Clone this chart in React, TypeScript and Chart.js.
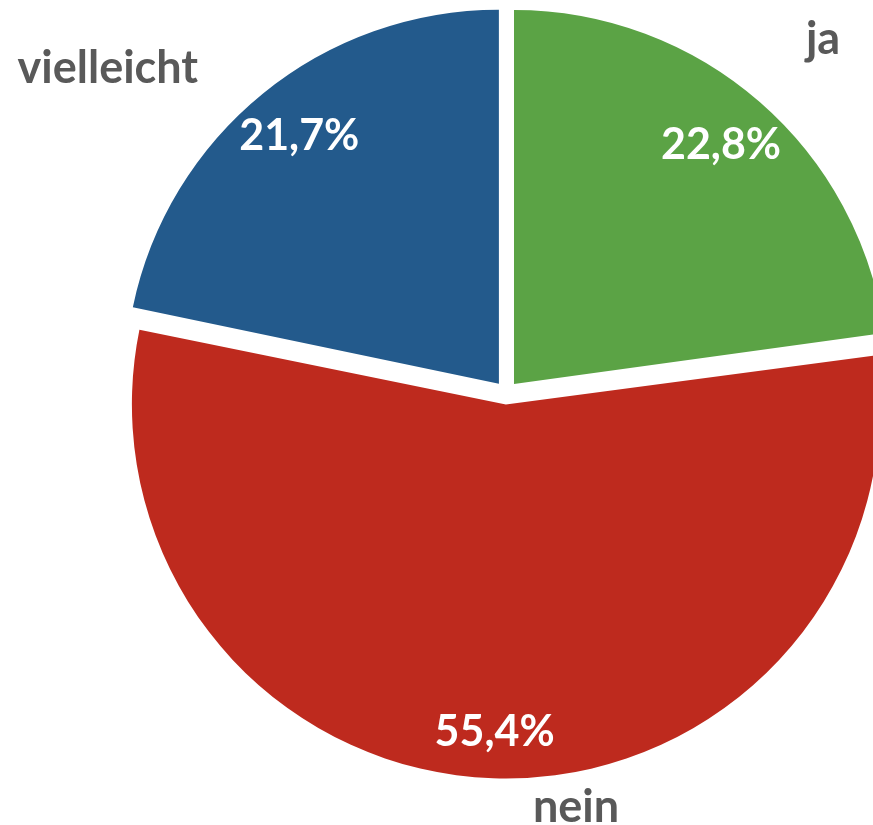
import React, { useEffect, useRef } from "react";
import { Chart, registerables } from "chart.js";

Chart.register(...registerables);

// ---- data ----
const categories = ["ja", "nein", "vielleicht"];
const values = [22.8, 55.4, 21.7];
const valueLabels = ["22,8%", "55,4%", "21,7%"];
const sliceColors = ["#5BA345", "#BE2A1E", "#235A8C"];

// ---- layout / style config ----
const RADIUS = 374;
const EXPLODE_PX = 11.7;
const VALUE_FONT = "bold 43px Lato";
const NAME_FONT = "bold 45px Lato";
const NAME_COLOR = "#595959";
const inLabelRadius = [0.842, 0.881, 0.847];
const outLabelRadius = [1.23, 1.086, 1.347];
const outLabelAngleShiftDeg = [0.8, -11.9, -11.8];

function drawCentered(ctx: CanvasRenderingContext2D, text: string, x: number, y: number, color: string, font: string) {
  ctx.save();
  ctx.font = font;
  ctx.fillStyle = color;
  ctx.textAlign = "left";
  ctx.textBaseline = "alphabetic";
  const m = ctx.measureText(text);
  const dx = x - (m.actualBoundingBoxRight - m.actualBoundingBoxLeft) / 2;
  const base = y + (m.actualBoundingBoxAscent - m.actualBoundingBoxDescent) / 2;
  ctx.fillText(text, dx, base);
  ctx.restore();
}

const sliceLabelPlugin = {
  id: "sliceLabels",
  beforeDatasetsDraw(chart: any) {
    const meta = chart.getDatasetMeta(0);
    const ctrl: any = meta.controller;
    meta.data.forEach((arc: any) => {
      const off = (arc.options.offset || 0) / 4;
      const fix = 1 - Math.sin(Math.min(Math.PI, arc.circumference || 0));
      arc.outerRadius = ctrl.outerRadius - off * fix;
    });
  },
  afterDatasetsDraw(chart: any) {
    const ctx: CanvasRenderingContext2D = chart.ctx;
    const meta = chart.getDatasetMeta(0);
    const R = (meta.controller as any).outerRadius;
    meta.data.forEach((arc: any, i: number) => {
      const off = (arc.options.offset || 0) / 4;
      const mid = (arc.startAngle + arc.endAngle) / 2;
      const cx = arc.x + Math.cos(mid) * off;
      const cy = arc.y + Math.sin(mid) * off;
      drawCentered(
        ctx,
        valueLabels[i],
        cx + Math.cos(mid) * R * inLabelRadius[i],
        cy + Math.sin(mid) * R * inLabelRadius[i],
        "#FFFFFF",
        VALUE_FONT
      );
      const a2 = mid + (outLabelAngleShiftDeg[i] * Math.PI) / 180;
      drawCentered(
        ctx,
        categories[i],
        cx + Math.cos(a2) * R * outLabelRadius[i],
        cy + Math.sin(a2) * R * outLabelRadius[i],
        NAME_COLOR,
        NAME_FONT
      );
    });
  },
};

export default function App() {
  const ref = useRef<HTMLCanvasElement | null>(null);
  useEffect(() => {
    if (!ref.current) return;
    const W = 873;
    const H = 825;
    const centerX = 506.3;
    const centerY = 392.8;
    const chart = new Chart(ref.current, {
      type: "pie",
      data: {
        labels: categories,
        datasets: [
          {
            data: values,
            backgroundColor: sliceColors,
            borderWidth: 0,
            offset: EXPLODE_PX * 4,
            hoverOffset: 0,
            clip: false,
          } as any,
        ],
      },
      options: {
        responsive: false,
        animation: false,
        events: [],
        radius: RADIUS,
        layout: {
          padding: {
            left: 2 * centerX - W,
            right: 0,
            top: 0,
            bottom: H - 2 * centerY,
          },
        },
        plugins: {
          legend: { display: false },
          tooltip: { enabled: false },
          title: { display: false },
        },
      } as any,
      plugins: [sliceLabelPlugin],
    });
    return () => chart.destroy();
  }, []);
  return (
    <div style={{ position: "absolute", left: 0, top: 0, width: 873, height: 825, background: "#fff" }}>
      <canvas ref={ref} width={873} height={825} style={{ display: "block" }} />
    </div>
  );
}
